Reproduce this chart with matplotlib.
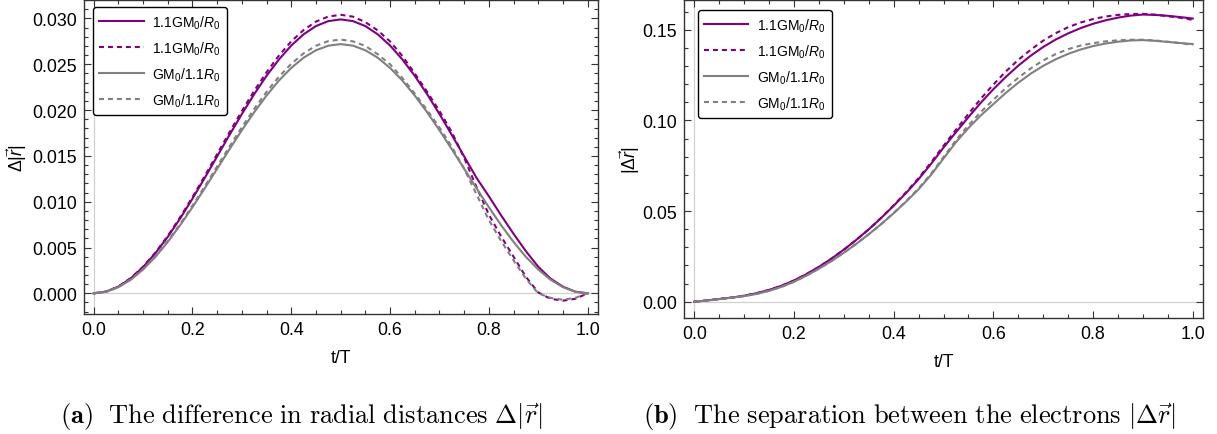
import numpy as np
import matplotlib
matplotlib.use("Agg")
import matplotlib.pyplot as plt
from matplotlib.ticker import MultipleLocator, FormatStrFormatter

plt.rcParams["font.family"] = ["Liberation Sans", "DejaVu Sans"]
plt.rcParams["mathtext.fontset"] = "custom"
plt.rcParams["mathtext.rm"] = "Liberation Sans"
plt.rcParams["mathtext.it"] = "Liberation Sans:italic"
plt.rcParams["mathtext.bf"] = "Liberation Sans:bold"

# time axis, t/T in steps of 0.025
t = np.linspace(0.0, 1.0, 41)

# (a) difference in radial distances
dr_heavy = [0, 0.00018, 0.00073, 0.00163, 0.00286, 0.00438, 0.00616, 0.00816, 0.01033, 0.01261,
            0.01495, 0.01729, 0.01957, 0.02174, 0.02374, 0.02552, 0.02705, 0.02827, 0.02917, 0.02971,
            0.02990, 0.02971, 0.02917, 0.02827, 0.02705, 0.02552, 0.02374, 0.02174, 0.01957, 0.01729,
            0.01495, 0.01261, 0.01060, 0.00850, 0.00650, 0.00460, 0.00290, 0.00160, 0.00073, 0.00018, 0]
dr_heavy_d = [0, 0.00019, 0.00074, 0.00166, 0.00290, 0.00445, 0.00627, 0.00830, 0.01050, 0.01282,
              0.01520, 0.01758, 0.01990, 0.02210, 0.02413, 0.02595, 0.02750, 0.02874, 0.02966, 0.03021,
              0.03040, 0.03020, 0.02960, 0.02870, 0.02750, 0.02590, 0.02400, 0.02200, 0.01990, 0.01760,
              0.01480, 0.01160, 0.00860, 0.00620, 0.00400, 0.00180, 0.00010, -0.00060, -0.00080, -0.00060, 0]
dr_wide = [0, 0.00017, 0.00067, 0.00148, 0.00260, 0.00398, 0.00561, 0.00743, 0.00940, 0.01147,
           0.01360, 0.01573, 0.01780, 0.01977, 0.02159, 0.02322, 0.02460, 0.02572, 0.02653, 0.02703,
           0.02720, 0.02703, 0.02653, 0.02572, 0.02460, 0.02322, 0.02159, 0.01977, 0.01780, 0.01573,
           0.01360, 0.01147, 0.00940, 0.00743, 0.00561, 0.00398, 0.00260, 0.00148, 0.00067, 0.00017, 0]
dr_wide_d = [0, 0.00017, 0.00068, 0.00151, 0.00265, 0.00406, 0.00571, 0.00756, 0.00957, 0.01168,
             0.01385, 0.01602, 0.01813, 0.02014, 0.02199, 0.02364, 0.02505, 0.02619, 0.02702, 0.02753,
             0.02770, 0.02750, 0.02700, 0.02610, 0.02500, 0.02350, 0.02180, 0.02000, 0.01810, 0.01600,
             0.01360, 0.01080, 0.00800, 0.00570, 0.00360, 0.00160, 0.00000, -0.00050, -0.00070, -0.00050, 0]

# (b) separation between the electrons
sep_heavy = [0, 0.0007, 0.0015, 0.0023, 0.0033, 0.0047, 0.0065, 0.0088, 0.0117, 0.0152,
             0.0192, 0.0237, 0.0287, 0.0341, 0.0399, 0.0462, 0.0529, 0.0600, 0.0676, 0.0760,
             0.0850, 0.0935, 0.1018, 0.1098, 0.1172, 0.1240, 0.1302, 0.1357, 0.1405, 0.1446,
             0.1480, 0.1509, 0.1533, 0.1552, 0.1567, 0.1578, 0.1584, 0.1582, 0.1577, 0.1570, 0.1562]
sep_heavy_d = [0, 0.0007, 0.0015, 0.0023, 0.0033, 0.0047, 0.0065, 0.0088, 0.0117, 0.0152,
               0.0192, 0.0237, 0.0287, 0.0341, 0.0399, 0.0463, 0.0532, 0.0604, 0.0682, 0.0768,
               0.0860, 0.0949, 0.1036, 0.1120, 0.1198, 0.1270, 0.1334, 0.1390, 0.1440, 0.1481,
               0.1514, 0.1540, 0.1559, 0.1573, 0.1582, 0.1587, 0.1588, 0.1583, 0.1575, 0.1566, 0.1555]
sep_wide = [0, 0.0006, 0.0014, 0.0022, 0.0031, 0.0043, 0.0060, 0.0082, 0.0110, 0.0144,
            0.0182, 0.0224, 0.0270, 0.0319, 0.0372, 0.0428, 0.0488, 0.0552, 0.0620, 0.0700,
            0.0790, 0.0880, 0.0958, 0.1028, 0.1090, 0.1152, 0.1208, 0.1258, 0.1301, 0.1337,
            0.1367, 0.1391, 0.1410, 0.1424, 0.1434, 0.1441, 0.1443, 0.1439, 0.1433, 0.1427, 0.1421]
sep_wide_d = [0, 0.0006, 0.0014, 0.0022, 0.0031, 0.0043, 0.0060, 0.0082, 0.0110, 0.0144,
              0.0182, 0.0224, 0.0270, 0.0319, 0.0372, 0.0428, 0.0490, 0.0555, 0.0625, 0.0706,
              0.0798, 0.0891, 0.0973, 0.1047, 0.1114, 0.1178, 0.1235, 0.1287, 0.1331, 0.1366,
              0.1393, 0.1413, 0.1426, 0.1436, 0.1442, 0.1445, 0.1445, 0.1441, 0.1434, 0.1426, 0.1417]

labels = [r"1.1GM$_0$/$R_0$", r"1.1GM$_0$/$R_0$", r"GM$_0$/1.1$R_0$", r"GM$_0$/1.1$R_0$"]
colors = ["#800080", "#800080", "#808080", "#808080"]
styles = ["-", (0, (2.4, 1.9)), "-", (0, (2.4, 1.9))]

W, H = 1217, 435
fig = plt.figure(figsize=(W / 100, H / 100), dpi=100)


def px_axes(x0, x1, y0, y1):
    # axes placed by pixel edges (y measured from the top)
    return fig.add_axes([x0 / W, 1 - y1 / H, (x1 - x0) / W, (y1 - y0) / H])


def style_axes(ax, ymajor, yminor):
    ax.axhline(0, color="#d0d0d0", lw=0.9, zorder=0)
    ax.axvline(0, color="#d0d0d0", lw=0.9, zorder=0)
    ax.xaxis.set_major_locator(MultipleLocator(0.2))
    ax.xaxis.set_minor_locator(MultipleLocator(0.05))
    ax.yaxis.set_major_locator(MultipleLocator(ymajor))
    ax.yaxis.set_minor_locator(MultipleLocator(yminor))
    ax.tick_params(which="both", direction="in", top=True, right=True,
                   colors="#333333", labelcolor="black", labelsize=12.8, width=0.8)
    ax.tick_params(which="major", length=5, pad=5)
    ax.tick_params(which="minor", length=3)
    for sp in ax.spines.values():
        sp.set_color("#333333")
        sp.set_linewidth(1.0)
    ax.set_xlabel("t/T", fontsize=12.8, labelpad=8)


def draw(ax, series, anchor):
    for y, c, ls, lab in zip(series, colors, styles, labels):
        ax.plot(t, y, color=c, linestyle=ls, lw=1.5, label=lab)
    leg = ax.legend(loc="upper left", bbox_to_anchor=anchor, borderaxespad=0, fontsize=10,
                    handlelength=3.2, handletextpad=0.6, labelspacing=0.62,
                    borderpad=0.45, fancybox=True, framealpha=1, edgecolor="black")
    leg.get_frame().set_linewidth(1.0)


# (a)
ax1 = px_axes(83.7, 598, 0.5, 315.3)
draw(ax1, [dr_heavy, dr_heavy_d, dr_wide, dr_wide_d], (0.018, 0.976))
style_axes(ax1, 0.005, 0.001)
ax1.set_xlim(-0.0202, 1.021)
ax1.set_ylim(-0.00229, 0.03207)
ax1.yaxis.set_major_formatter(FormatStrFormatter("%.3f"))
ax1.set_ylabel(r"$\Delta|\vec{r}|$", fontsize=12.8)
ax1.yaxis.set_label_coords(-0.106, 0.5)

# (b)
ax2 = px_axes(684.3, 1202.7, 0.5, 319)
draw(ax2, [sep_heavy, sep_heavy_d, sep_wide, sep_wide_d], (0.026, 0.967))
style_axes(ax2, 0.05, 0.01)
ax2.set_xlim(-0.020, 1.020)
ax2.set_ylim(-0.00898, 0.1667)
ax2.yaxis.set_major_formatter(FormatStrFormatter("%.2f"))
ax2.set_ylabel(r"$|\Delta\vec{r}|$", fontsize=12.8)
ax2.yaxis.set_label_coords(-0.082, 0.5)

fig.text(301 / W, 1 - 417 / H,
         r"$\mathbf{(a)}\ \ \mathrm{The\ difference\ in\ radial\ distances}\ \Delta|\vec{r}|$",
         ha="center", va="center", fontsize=19, math_fontfamily="cm")
fig.text(909 / W, 1 - 417 / H,
         r"$\mathbf{(b)}\ \ \mathrm{The\ separation\ between\ the\ electrons}\ |\Delta\vec{r}|$",
         ha="center", va="center", fontsize=19, math_fontfamily="cm")

fig.savefig("out.png", dpi=100)
